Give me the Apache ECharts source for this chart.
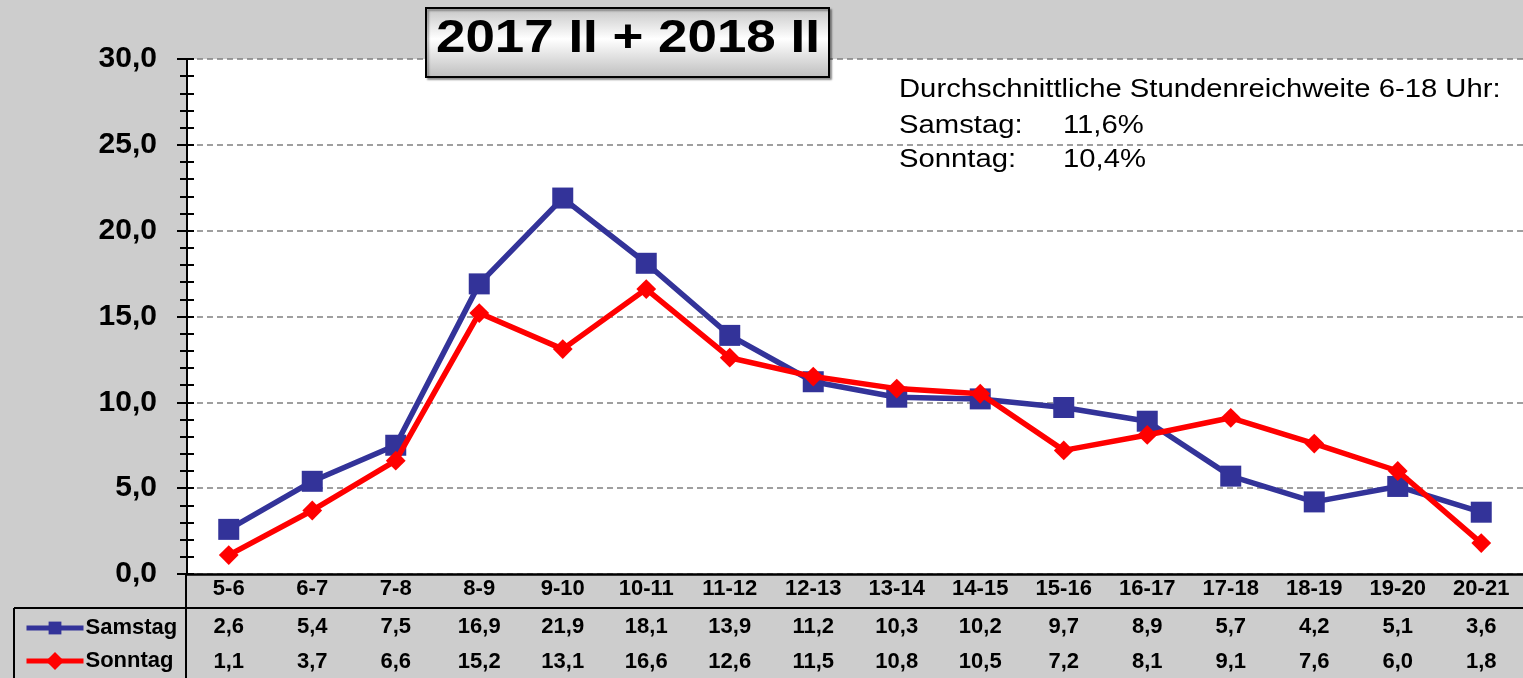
<!DOCTYPE html>
<html>
<head>
<meta charset="utf-8">
<script src="https://cdn.jsdelivr.net/npm/echarts@6/dist/echarts.min.js"></script>
<style>
  html, body { margin: 0; padding: 0; background: #cdcdcd; }
  #charts { width: 1523px; height: 678px; }
</style>
</head>
<body>
<div id="charts"></div>
<script>
// Stunden
var hours = ['5-6','6-7','7-8','8-9','9-10','10-11','11-12','12-13','13-14','14-15','15-16','16-17','17-18','18-19','19-20','20-21'];
// Reichweite in %
var samstag = [2.6, 5.4, 7.5, 16.9, 21.9, 18.1, 13.9, 11.2, 10.3, 10.2, 9.7, 8.9, 5.7, 4.2, 5.1, 3.6];
var sonntag = [1.1, 3.7, 6.6, 15.2, 13.1, 16.6, 12.6, 11.5, 10.8, 10.5, 7.2, 8.1, 9.1, 7.6, 6.0, 1.8];
var yTicks = [0, 5, 10, 15, 20, 25, 30];

var font = '"Liberation Sans", Arial, sans-serif';
function fmt(v) { return v.toFixed(1).replace('.', ','); }

var myChart = echarts.init(document.getElementById('charts'));

var option = {
    backgroundColor: '#cdcdcd',
    animation: false,
    grid: {
        left: 187, right: -2, top: 59, bottom: 104,
        show: true, backgroundColor: '#ffffff', borderWidth: 0
    },
    legend: {
        orient: 'vertical',
        left: 19, top: 612,
        itemWidth: 57, itemHeight: 16, itemGap: 11,
        lineStyle: { width: 5 },
        textStyle: { fontFamily: font, fontWeight: 'bold', fontSize: 22, color: '#000', padding: [0, 0, 0, -3] },
        data: ['Samstag', 'Sonntag']
    },
    xAxis: [
        {
            type: 'category',
            data: hours,
            position: 'bottom',
            axisLine: { lineStyle: { color: '#000', width: 2.5 } },
            axisTick: { show: false },
            axisLabel: { interval: 0, margin: 4, fontFamily: font, fontWeight: 'bold', fontSize: 22, color: '#000' }
        },
        {
            type: 'category',
            data: hours,
            position: 'bottom',
            offset: 40,
            axisLine: { show: false },
            axisTick: { show: false },
            axisLabel: {
                interval: 0, margin: 2, fontFamily: font, fontWeight: 'bold', fontSize: 22, color: '#000',
                formatter: function (v, i) { return fmt(samstag[i]); }
            }
        },
        {
            type: 'category',
            data: hours,
            position: 'bottom',
            offset: 75,
            axisLine: { show: false },
            axisTick: { show: false },
            axisLabel: {
                interval: 0, margin: 2, fontFamily: font, fontWeight: 'bold', fontSize: 22, color: '#000',
                formatter: function (v, i) { return fmt(sonntag[i]); }
            }
        }
    ],
    yAxis: [
        {
            type: 'value',
            min: yTicks[0], max: yTicks[yTicks.length - 1], interval: 5,
            axisLine: { show: true, lineStyle: { color: '#000', width: 2 } },
            axisTick: { show: true, length: 10, lineStyle: { color: '#000', width: 2 } },
            minorTick: { show: true, splitNumber: 5, length: 7, lineStyle: { color: '#000', width: 2 } },
            axisLabel: {
                margin: 30, fontFamily: font, fontWeight: 'bold', fontSize: 30, color: '#000',
                formatter: function (v) { return fmt(v); }
            },
            splitLine: { show: true, lineStyle: { color: '#808080', type: [6, 4], width: 1.5 } }
        },
        {
            type: 'value',
            position: 'left',
            min: yTicks[0], max: yTicks[yTicks.length - 1], interval: 5,
            axisLine: { show: false },
            axisTick: { show: true, inside: true, length: 7, lineStyle: { color: '#000', width: 2 } },
            minorTick: { show: true, splitNumber: 5, length: 7, lineStyle: { color: '#000', width: 2 } },
            axisLabel: { show: false },
            splitLine: { show: false }
        }
    ],
    series: [
        {
            name: 'Samstag',
            type: 'line',
            data: samstag,
            symbol: 'rect',
            symbolSize: 21,
            itemStyle: { color: '#333399' },
            lineStyle: { color: '#333399', width: 5.5 },
            z: 3
        },
        {
            name: 'Sonntag',
            type: 'line',
            data: sonntag,
            symbol: 'rect',
            symbolRotate: 45,
            symbolSize: 14,
            itemStyle: { color: '#ff0000' },
            lineStyle: { color: '#ff0000', width: 5.5 },
            z: 4
        }
    ],
    graphic: [
        // Tabellenlinien
        { type: 'line', shape: { x1: 14, y1: 608, x2: 1523, y2: 608 }, style: { stroke: '#000', lineWidth: 2 }, z: 10 },
        { type: 'line', shape: { x1: 186, y1: 574, x2: 186, y2: 678 }, style: { stroke: '#000', lineWidth: 2 }, z: 10 },
        { type: 'line', shape: { x1: 14, y1: 608, x2: 14, y2: 678 }, style: { stroke: '#000', lineWidth: 2 }, z: 10 },
        // Titel
        {
            type: 'rect', x: 426, y: 8, z: 20,
            shape: { width: 403, height: 69 },
            style: {
                stroke: '#000', lineWidth: 2,
                fill: new echarts.graphic.LinearGradient(0, 0, 0, 1, [
                    { offset: 0, color: '#c4c4c4' },
                    { offset: 0.45, color: '#ffffff' },
                    { offset: 1, color: '#bdbdbd' }
                ]),
                shadowColor: 'rgba(0,0,0,0.35)', shadowOffsetX: 2, shadowOffsetY: 2, shadowBlur: 2
            }
        },
        {
            type: 'text', x: 436, y: 39, scaleX: 1.15, z: 21,
            style: { text: '2017 II + 2018 II', font: 'bold 46px ' + font, fill: '#000', verticalAlign: 'middle' }
        },
        // Durchschnitt
        {
            type: 'text', x: 899, y: 90, scaleX: 1.17, z: 21,
            style: { text: 'Durchschnittliche Stundenreichweite 6-18 Uhr:', font: '25px ' + font, fill: '#000', verticalAlign: 'middle' }
        },
        { type: 'text', x: 899, y: 126, scaleX: 1.17, z: 21, style: { text: 'Samstag:', font: '25px ' + font, fill: '#000', verticalAlign: 'middle' } },
        { type: 'text', x: 1063, y: 126, scaleX: 1.17, z: 21, style: { text: '11,6%', font: '25px ' + font, fill: '#000', verticalAlign: 'middle' } },
        { type: 'text', x: 899, y: 160, scaleX: 1.17, z: 21, style: { text: 'Sonntag:', font: '25px ' + font, fill: '#000', verticalAlign: 'middle' } },
        { type: 'text', x: 1063, y: 160, scaleX: 1.17, z: 21, style: { text: '10,4%', font: '25px ' + font, fill: '#000', verticalAlign: 'middle' } }
    ]
};

myChart.setOption(option);
</script>
</body>
</html>
